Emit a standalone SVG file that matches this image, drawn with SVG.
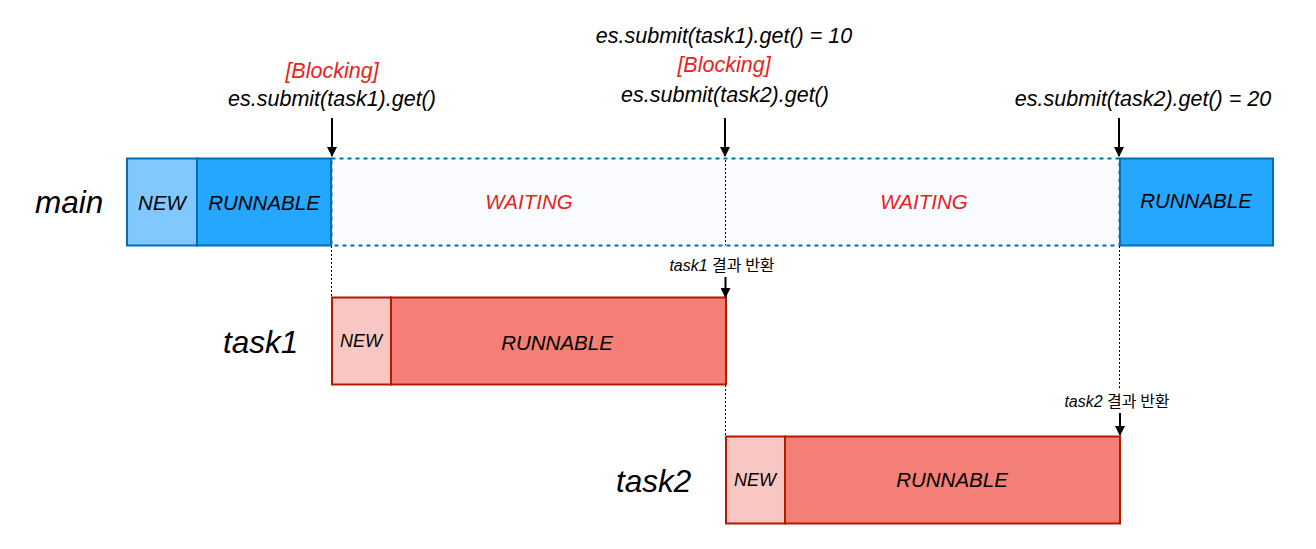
<svg xmlns="http://www.w3.org/2000/svg" width="1316" height="549" viewBox="0 0 1316 549">
<defs>
<marker id="ah" viewBox="0 0 10 10" refX="9" refY="5" markerWidth="10" markerHeight="10" markerUnits="userSpaceOnUse" orient="auto">
<path d="M0,0 L10,5 L0,10 Z" fill="#000"/>
</marker>
<style>
text{font-family:"Liberation Sans",Arial,"Noto Sans CJK KR",sans-serif;font-style:italic;fill:#000}
.lbl{font-size:20.5px;text-anchor:middle}
.top{font-size:21.5px;text-anchor:middle}
.red{fill:#e8221b}
.big{font-size:31.5px}
.small{font-size:16px;text-anchor:middle}
.kr{font-style:normal;font-family:"Noto Sans CJK KR","Liberation Sans",sans-serif}
.bnew{fill:#80c8ff;stroke:#006eaf;stroke-width:2}
.brun{fill:#25a6ff;stroke:#006eaf;stroke-width:2}
.wait{fill:#fafcff;stroke:#006eaf;stroke-width:2;stroke-dasharray:4 4}
.rnew{fill:#f9c7c3;stroke:#b31b00;stroke-width:2}
.rrun{fill:#f37f76;stroke:#b31b00;stroke-width:2}
.dot{stroke:#000;stroke-width:1;stroke-dasharray:2 2;fill:none}
.arr{stroke:#000;stroke-width:2;fill:none;marker-end:url(#ah)}
</style>
</defs>

<g id="main-row">
<text class="big" x="35" y="213">main</text>
<rect class="wait" x="331.5" y="158.5" width="788" height="87"/>
<rect class="bnew" x="127" y="158.5" width="70" height="87"/>
<text class="lbl" x="162" y="210">NEW</text>
<rect class="brun" x="197" y="158.5" width="134" height="87"/>
<text class="lbl" x="264" y="210">RUNNABLE</text>
<text class="lbl red" x="529" y="209">WAITING</text>
<text class="lbl red" x="924" y="209">WAITING</text>
<rect class="brun" x="1120" y="158.5" width="153" height="87"/>
<text class="lbl" x="1196" y="208">RUNNABLE</text>
</g>

<g id="task1-row">
<text class="big" x="223" y="353">task1</text>
<rect class="rnew" x="332" y="297.5" width="59" height="87"/>
<text class="lbl" x="361" y="347" style="font-size:18px">NEW</text>
<rect class="rrun" x="391" y="297.5" width="335" height="87"/>
<text class="lbl" x="557" y="350">RUNNABLE</text>
</g>

<g id="task2-row">
<text class="big" x="616" y="492">task2</text>
<rect class="rnew" x="726" y="436.5" width="59" height="87"/>
<text class="lbl" x="755" y="486" style="font-size:18px">NEW</text>
<rect class="rrun" x="785" y="436.5" width="335" height="87"/>
<text class="lbl" x="952" y="487">RUNNABLE</text>
</g>

<g id="annotations">
<text class="top red" x="332" y="78">[Blocking]</text>
<text class="top" x="332" y="106">es.submit(task1).get()</text>
<text class="top" x="724" y="43">es.submit(task1).get() = 10</text>
<text class="top red" x="724" y="72">[Blocking]</text>
<text class="top" x="725" y="102">es.submit(task2).get()</text>
<text class="top" x="1143" y="106">es.submit(task2).get() = 20</text>
<text class="small" x="722" y="271">task1 <tspan class="kr">결과 반환</tspan></text>
<text class="small" x="1117" y="407">task2 <tspan class="kr">결과 반환</tspan></text>
</g>

<g id="connectors">
<line class="arr" x1="332" y1="118" x2="332" y2="156"/>
<line class="arr" x1="725" y1="118" x2="725" y2="156"/>
<line class="arr" x1="1119" y1="118" x2="1119" y2="156"/>
<line class="arr" x1="725.5" y1="277" x2="725.5" y2="297"/>
<line class="arr" x1="1120" y1="413" x2="1120" y2="435"/>
<line class="dot" x1="331.5" y1="246" x2="331.5" y2="297"/>
<line class="dot" x1="725.5" y1="160" x2="725.5" y2="245"/>
<line class="dot" x1="725.5" y1="385" x2="725.5" y2="436"/>
<line class="dot" x1="1119.5" y1="246" x2="1119.5" y2="388"/>
</g>
</svg>
